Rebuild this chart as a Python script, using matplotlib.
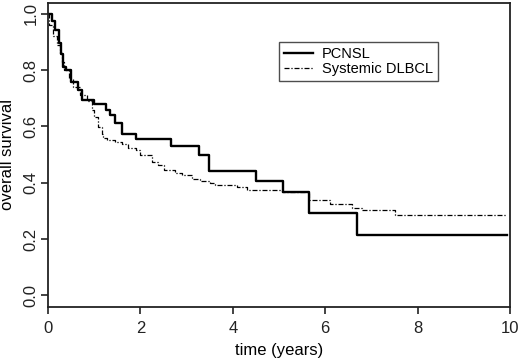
import numpy as np
import matplotlib.pyplot as plt

plt.rcParams['font.family'] = ['Liberation Sans', 'DejaVu Sans']

# Kaplan-Meier estimates (time in years, survival)
pcnsl_t = [0, 0.08, 0.15, 0.245, 0.28, 0.33, 0.40, 0.50, 0.66, 0.73, 1.00,
           1.26, 1.34, 1.45, 1.60, 1.91, 2.66, 3.26, 3.49, 4.50, 5.08,
           5.66, 6.69, 9.93]
pcnsl_s = [1.0, 0.974, 0.943, 0.896, 0.858, 0.81, 0.80, 0.757, 0.728, 0.695,
           0.678, 0.66, 0.639, 0.612, 0.574, 0.557, 0.53, 0.50, 0.442, 0.405,
           0.367, 0.291, 0.216, 0.216]

dlbcl_t = [0, 0.02, 0.10, 0.20, 0.25, 0.30, 0.35, 0.45, 0.55, 0.70, 0.85,
           0.95, 1.00, 1.09, 1.16, 1.20, 1.27, 1.45, 1.60, 1.74, 1.91, 1.99,
           2.26, 2.39, 2.51, 2.75, 2.90, 3.11, 3.29, 3.50, 3.62, 4.09, 4.30,
           5.06, 5.64, 6.11, 6.58, 6.79, 7.52, 9.93]
dlbcl_s = [1.0, 0.96, 0.92, 0.89, 0.86, 0.83, 0.80, 0.77, 0.74, 0.71, 0.69,
           0.657, 0.633, 0.598, 0.574, 0.558, 0.551, 0.545, 0.537, 0.525, 0.515,
           0.497, 0.474, 0.462, 0.447, 0.436, 0.427, 0.415, 0.406, 0.40, 0.391,
           0.385, 0.373, 0.367, 0.338, 0.326, 0.312, 0.302, 0.287, 0.287]

xticks = [0, 2, 4, 6, 8, 10]
yticks = [0.0, 0.2, 0.4, 0.6, 0.8, 1.0]

fig = plt.figure(figsize=(5.2, 3.59), dpi=100)
ax = fig.add_axes([0.0923, 0.1457, 0.8885, 0.8473])

ax.step(pcnsl_t, pcnsl_s, where='post', color='black', lw=1.7, label='PCNSL')
ax.step(dlbcl_t, dlbcl_s, where='post', color='black', lw=0.9,
        linestyle=(0, (4, 1.5, 1, 1.5)), label='Systemic DLBCL')

ax.set_xlim(0, 10)
ax.set_ylim(-0.04, 1.04)
ax.set_xticks(xticks)
ax.set_xticklabels([str(v) for v in xticks])
ax.set_yticks(yticks)
ax.set_yticklabels(['%.1f' % v for v in yticks], rotation=90, va='center')
ax.tick_params(length=5, width=1.2, labelsize=12, pad=5, colors='#222222')
ax.tick_params(axis='y', pad=2)
for sp in ax.spines.values():
    sp.set_linewidth(1.3)
    sp.set_color('#222222')

ax.set_xlabel('time (years)', fontsize=12, labelpad=5)
ax.set_ylabel('overall survival', fontsize=12, labelpad=6)

leg = ax.legend(loc='upper left', bbox_to_anchor=(0.50, 0.871), fontsize=10.5,
                frameon=True, fancybox=False, edgecolor='#222222',
                handlelength=2.0, handletextpad=0.6, borderpad=0.35,
                labelspacing=0.1, borderaxespad=0)
leg.get_frame().set_linewidth(1.0)

fig.savefig('out.png', dpi=100)
